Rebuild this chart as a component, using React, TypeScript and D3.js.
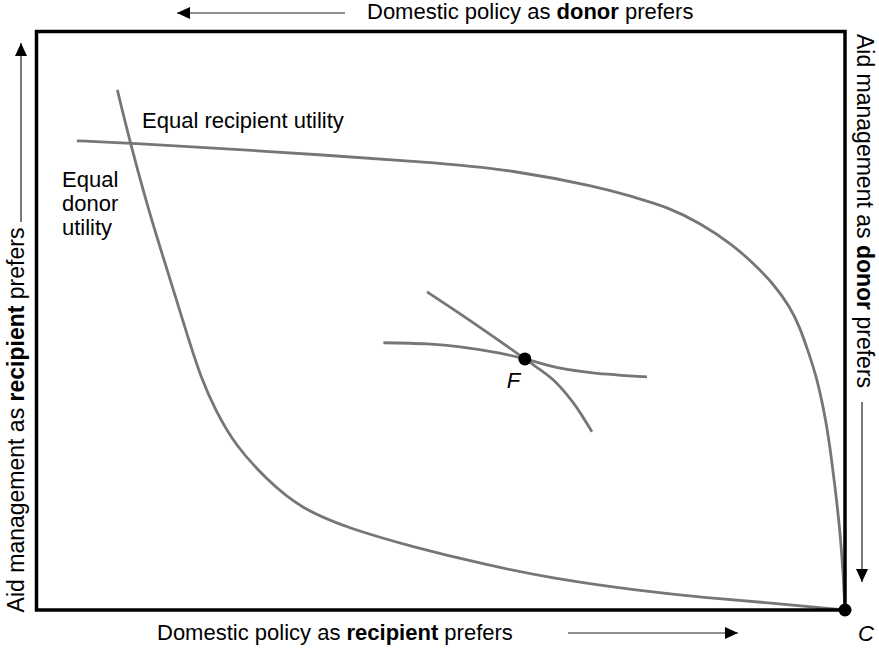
import React, { useEffect } from 'react';
import * as d3 from 'd3';

// chart units: 0..100 on both axes (left/bottom = recipient's side)
const recipientCurveX = [5.0, 11.6, 26.4, 49.9, 58.6, 69.7, 73.8, 78.0, 82.1, 86.15, 88.6, 91.1, 93.2, 94.4, 95.4, 96.5, 97.65, 98.27, 98.89, 99.4, 99.75, 100];
const recipientCurveY = [81.1, 80.7, 79.5, 77.3, 76.1, 73.1, 71.4, 69.7, 66.9, 63.1, 60.0, 56.5, 52.4, 48.9, 44.9, 40.3, 32.8, 26.8, 19.9, 13.3, 6.9, 0];

const donorCurveX = [10.0, 11.6, 14.0, 16.1, 18.6, 20.35, 22.1, 24.55, 28.5, 32.6, 38.8, 47.1, 55.2, 63.5, 74.6, 82.9, 91.1, 100];
const donorCurveY = [89.9, 80.7, 68.4, 59.1, 47.7, 40.1, 34.6, 28.5, 22.5, 17.6, 14.0, 10.7, 7.95, 5.5, 3.3, 2.1, 1.2, 0];

const localRecipientX = [42.9, 48.3, 52.4, 57.3, 60.4, 64.8, 68.8, 75.5];
const localRecipientY = [46.2, 46.0, 45.5, 44.4, 43.4, 41.8, 41.0, 40.3];

const localDonorX = [48.3, 54.4, 60.4, 63.9, 66.4, 68.7];
const localDonorY = [55.0, 49.3, 43.4, 39.8, 35.8, 30.8];

const pointNames = ['F', 'C'];
const pointX = [60.4, 100];
const pointY = [43.4, 0];

const W = 879;
const H = 648;
const box = { left: 36.5, right: 845, top: 31.5, bottom: 610 };
const FONT = '"Liberation Sans", Arial, Helvetica, sans-serif';
const CURVE = '#767676';

const zip = (xs: number[], ys: number[]) => xs.map((x, i) => [x, ys[i]] as [number, number]);

export default function App() {
  useEffect(() => {
    document.body.style.margin = '0';
  }, []);

  const x = d3.scaleLinear().domain([0, 100]).range([box.left, box.right]);
  const y = d3.scaleLinear().domain([0, 100]).range([box.bottom, box.top]);
  const bigLine = d3
    .line<[number, number]>()
    .x((d) => x(d[0]))
    .y((d) => y(d[1]))
    .curve(d3.curveBasis);
  const through = d3
    .line<[number, number]>()
    .x((d) => x(d[0]))
    .y((d) => y(d[1]))
    .curve(d3.curveCatmullRom.alpha(0.5));

  const bigCurves = [zip(recipientCurveX, recipientCurveY), zip(donorCurveX, donorCurveY)];
  const localCurves = [zip(localRecipientX, localRecipientY), zip(localDonorX, localDonorY)];

  const arrow = { stroke: '#222', strokeWidth: 1.2, markerEnd: 'url(#head)' };

  return (
    <svg width={W} height={H} style={{ display: 'block', background: '#fff' }} fontFamily={FONT}>
      <defs>
        <marker id="head" markerUnits="userSpaceOnUse" markerWidth={14} markerHeight={12} refX={13} refY={6} orient="auto">
          <path d="M0,0 L13,6 L0,12 Z" fill="#000" />
        </marker>
      </defs>

      {bigCurves.map((c, i) => (
        <path key={'b' + i} d={bigLine(c) ?? ''} fill="none" stroke={CURVE} strokeWidth={2.8} />
      ))}
      {localCurves.map((c, i) => (
        <path key={'l' + i} d={through(c) ?? ''} fill="none" stroke={CURVE} strokeWidth={2.8} />
      ))}

      <rect
        x={box.left}
        y={box.top}
        width={box.right - box.left}
        height={box.bottom - box.top}
        fill="none"
        stroke="#000"
        strokeWidth={3.5}
      />

      {pointNames.map((n, i) => (
        <circle key={n} cx={x(pointX[i])} cy={y(pointY[i])} r={6.5} fill="#000" />
      ))}
      <text x={x(pointX[0]) - 18} y={y(pointY[0]) + 29} fontSize={22} fontStyle="italic">F</text>
      <text x={x(pointX[1]) + 13} y={y(pointY[1]) + 31} fontSize={22} fontStyle="italic">C</text>

      <text x={142} y={128} fontSize={22}>Equal recipient utility</text>
      <text x={62} y={187} fontSize={22}>
        <tspan x={62}>Equal</tspan>
        <tspan x={62} dy={24}>donor</tspan>
        <tspan x={62} dy={24}>utility</tspan>
      </text>

      {/* top */}
      <text x={367} y={19} fontSize={22}>
        Domestic policy as <tspan fontWeight="bold">donor</tspan> prefers
      </text>
      <line x1={345} y1={13} x2={177} y2={13} {...arrow} />

      {/* bottom */}
      <text x={157} y={640} fontSize={22}>
        Domestic policy as <tspan fontWeight="bold">recipient</tspan> prefers
      </text>
      <line x1={568} y1={633} x2={738} y2={633} {...arrow} />

      {/* left */}
      <text transform="translate(24,420) rotate(-90)" textAnchor="middle" fontSize={23}>
        Aid management as <tspan fontWeight="bold">recipient</tspan> prefers
      </text>
      <line x1={21} y1={222} x2={21} y2={43} {...arrow} />

      {/* right */}
      <text transform="translate(857,211) rotate(90)" textAnchor="middle" fontSize={23}>
        Aid management as <tspan fontWeight="bold">donor</tspan> prefers
      </text>
      <line x1={862} y1={402} x2={862} y2={582} {...arrow} />
    </svg>
  );
}
